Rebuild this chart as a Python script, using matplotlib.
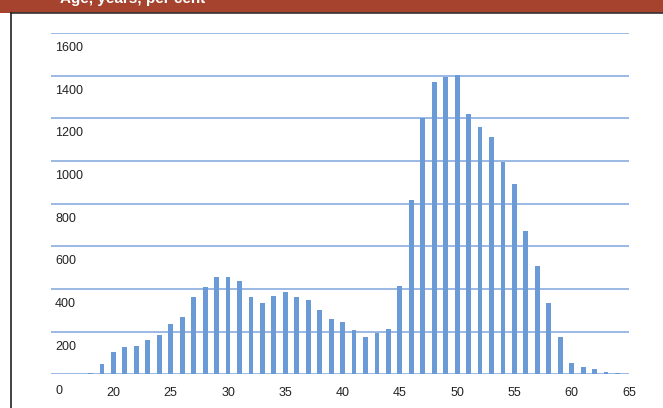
import matplotlib
matplotlib.use("Agg")
import matplotlib.pyplot as plt
import matplotlib.transforms as mtransforms
from matplotlib.patches import Rectangle
from matplotlib.lines import Line2D

plt.rcParams['font.family'] = ['Liberation Sans', 'DejaVu Sans']

# data
ages = list(range(18, 65))
counts = [8, 50, 104, 127, 135, 161, 185, 236, 268, 364,
          411, 454, 454, 437, 364, 333, 369, 387, 364, 350,
          302, 257, 246, 206, 176, 192, 213, 414, 815, 1201,
          1368, 1396, 1402, 1220, 1160, 1111, 997, 893, 671, 509,
          336, 176, 51, 33, 25, 9, 5]
xticks = [20, 25, 30, 35, 40, 45, 50, 55, 60, 65]
yticks = [0, 200, 400, 600, 800, 1000, 1200, 1400, 1600]
header = "Age, years, per cent"

W, H = 663, 408
fig = plt.figure(figsize=(W / 100, H / 100), dpi=100)
fig.patch.set_facecolor('white')

# red header band; the caption runs off the top edge as in the source
fig.patches.append(Rectangle((0, 1 - 12.5 / H), 1, 12.5 / H, transform=fig.transFigure,
                             facecolor='#a6432f', edgecolor='none', zorder=0))
fig.text(60 / W, 1 - 3.5 / H, header, color='white', fontsize=11, fontweight='bold',
         ha='left', va='baseline')
fig.lines.append(Line2D([10.5 / W, 1], [1 - 13 / H, 1 - 13 / H], transform=fig.transFigure,
                        color='#333333', lw=1.2))
fig.lines.append(Line2D([10.5 / W, 10.5 / W], [0, 1 - 13 / H], transform=fig.transFigure,
                        color='#222222', lw=1.2))

left, right = 51 / W, 629 / W
bottom, top = 1 - 374.3 / H, 1 - 33 / H
ax = fig.add_axes([left, bottom, right - left, top - bottom])
ax.set_facecolor('none')

ax.bar(ages, counts, width=0.42, color='#6b9bd6', zorder=2)

grid_col = '#7ea6dc'
for v in yticks:
    ax.axhline(v, color=grid_col, lw=1.1, zorder=1)

ax.set_xlim(14.55, 65)
ax.set_ylim(0, 1600)
for s in ax.spines.values():
    s.set_visible(False)

ax.set_xticks(xticks)
ax.set_xticklabels([str(t) for t in xticks])
ax.set_yticks([])
ax.tick_params(axis='x', length=0, pad=9.5, labelsize=9, labelcolor='#222222')

# y labels sit just under their gridlines
blend = mtransforms.blended_transform_factory(ax.transAxes, ax.transData)
for v in yticks:
    dy = -17 if v == 0 else -15
    tr = mtransforms.offset_copy(blend, fig=fig, x=0, y=dy, units='dots')
    ax.text(4 / (629 - 51), v, str(v), transform=tr, ha='left', va='center',
            fontsize=9, color='#222222')

fig.savefig('out.png', dpi=100)
